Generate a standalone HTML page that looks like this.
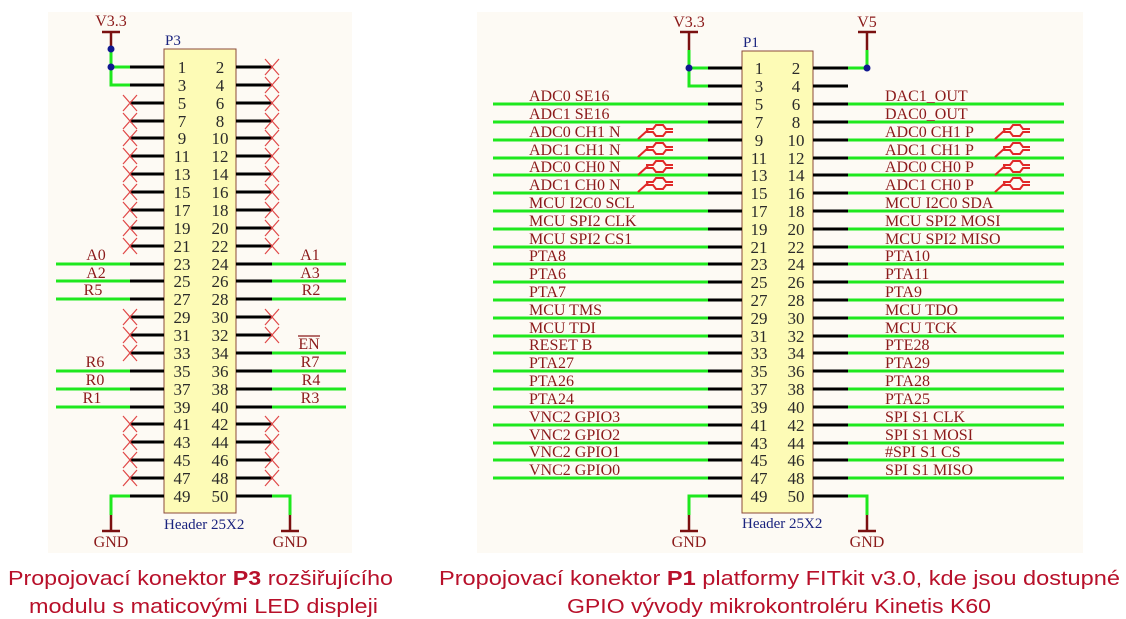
<!DOCTYPE html>
<html><head><meta charset="utf-8"><style>
html,body{margin:0;padding:0;background:#fff;}
svg{display:block;}
.s{font-family:"Liberation Serif",serif;font-size:16px;fill:#8b1a1a;}
.n{font-family:"Liberation Serif",serif;font-size:17px;fill:#2a2a2a;text-anchor:middle;}
.b{font-family:"Liberation Serif",serif;font-size:15px;fill:#1a237e;}
.k{stroke:#000;stroke-width:3;fill:none;}
.g{stroke:#1ee81e;stroke-width:3;fill:none;}
.x{stroke:#e04848;stroke-width:1.2;fill:none;}
.r{stroke:#7a1010;stroke-width:2.5;fill:none;}
.d{stroke:#e02828;stroke-width:2;fill:none;}
.c{font-family:"Liberation Sans",sans-serif;font-size:20px;fill:#b8102a;}
</style></head><body>
<svg width="1126" height="619" viewBox="0 0 1126 619" xmlns="http://www.w3.org/2000/svg">
<rect x="48" y="12" width="304" height="541" fill="#fdfaf4"/>
<rect x="477" y="12" width="606" height="541" fill="#fdfaf4"/>

<!-- ===== P3 ===== -->
<rect x="164" y="49" width="72" height="464" fill="#fdfbb6" stroke="#8a4a3a" stroke-width="1"/>
<text class="b" x="165" y="45">P3</text>
<text class="b" x="164" y="529">Header 25X2</text>
<path class="k" d="M130 67H164M130 85H164M130 103H164M130 121H164M130 138H164M130 156H164M130 174H164M130 192H164M130 210H164M130 228H164M130 246H164M130 264H164M130 281H164M130 299H164M130 317H164M130 335H164M130 353H164M130 371H164M130 389H164M130 407H164M130 424H164M130 442H164M130 460H164M130 478H164M130 496H164"/>
<path class="k" d="M236 67H272M236 85H272M236 103H272M236 121H272M236 138H272M236 156H272M236 174H272M236 192H272M236 210H272M236 228H272M236 246H272M236 264H272M236 281H272M236 299H272M236 317H272M236 335H272M236 353H272M236 371H272M236 389H272M236 407H272M236 424H272M236 442H272M236 460H272M236 478H272M236 496H272"/>
<g class="n">
<text x="182" y="73">1</text><text x="220" y="73">2</text>
<text x="182" y="91">3</text><text x="220" y="91">4</text>
<text x="182" y="109">5</text><text x="220" y="109">6</text>
<text x="182" y="127">7</text><text x="220" y="127">8</text>
<text x="182" y="144">9</text><text x="220" y="144">10</text>
<text x="182" y="162">11</text><text x="220" y="162">12</text>
<text x="182" y="180">13</text><text x="220" y="180">14</text>
<text x="182" y="198">15</text><text x="220" y="198">16</text>
<text x="182" y="216">17</text><text x="220" y="216">18</text>
<text x="182" y="234">19</text><text x="220" y="234">20</text>
<text x="182" y="252">21</text><text x="220" y="252">22</text>
<text x="182" y="270">23</text><text x="220" y="270">24</text>
<text x="182" y="287">25</text><text x="220" y="287">26</text>
<text x="182" y="305">27</text><text x="220" y="305">28</text>
<text x="182" y="323">29</text><text x="220" y="323">30</text>
<text x="182" y="341">31</text><text x="220" y="341">32</text>
<text x="182" y="359">33</text><text x="220" y="359">34</text>
<text x="182" y="377">35</text><text x="220" y="377">36</text>
<text x="182" y="395">37</text><text x="220" y="395">38</text>
<text x="182" y="413">39</text><text x="220" y="413">40</text>
<text x="182" y="430">41</text><text x="220" y="430">42</text>
<text x="182" y="448">43</text><text x="220" y="448">44</text>
<text x="182" y="466">45</text><text x="220" y="466">46</text>
<text x="182" y="484">47</text><text x="220" y="484">48</text>
<text x="182" y="502">49</text><text x="220" y="502">50</text>
</g>
<path class="x" d="M123 95L137 111M137 95L123 111M123 113L137 129M137 113L123 129M123 130L137 146M137 130L123 146M123 148L137 164M137 148L123 164M123 166L137 182M137 166L123 182M123 184L137 200M137 184L123 200M123 202L137 218M137 202L123 218M123 220L137 236M137 220L123 236M123 238L137 254M137 238L123 254M123 309L137 325M137 309L123 325M123 327L137 343M137 327L123 343M123 345L137 361M137 345L123 361M123 416L137 432M137 416L123 432M123 434L137 450M137 434L123 450M123 452L137 468M137 452L123 468M123 470L137 486M137 470L123 486"/>
<path class="x" d="M265 59L279 75M279 59L265 75M265 77L279 93M279 77L265 93M265 95L279 111M279 95L265 111M265 113L279 129M279 113L265 129M265 130L279 146M279 130L265 146M265 148L279 164M279 148L265 164M265 166L279 182M279 166L265 182M265 184L279 200M279 184L265 200M265 202L279 218M279 202L265 218M265 220L279 236M279 220L265 236M265 238L279 254M279 238L265 254M265 309L279 325M279 309L265 325M265 327L279 343M279 327L265 343M265 416L279 432M279 416L265 432M265 434L279 450M279 434L265 450M265 452L279 468M279 452L265 468M265 470L279 486M279 470L265 486"/>
<path class="g" d="M56 264H130M56 281H130M56 299H130M56 371H130M56 389H130M56 407H130M272 264H346M272 281H346M272 299H346M272 353H346M272 371H346M272 389H346M272 407H346"/>
<g class="s" text-anchor="middle">
<text x="96" y="260">A0</text><text x="96" y="278">A2</text><text x="93" y="295">R5</text>
<text x="95" y="367">R6</text><text x="95" y="385">R0</text><text x="92" y="403">R1</text>
<text x="310" y="260">A1</text><text x="310" y="278">A3</text><text x="311" y="295">R2</text>
<text x="309" y="349">EN</text><text x="310" y="367">R7</text><text x="311" y="385">R4</text><text x="310" y="403">R3</text>
</g>
<path stroke="#8b1a1a" stroke-width="1.3" d="M298 336H320"/>
<path class="g" d="M111 49V85H130M111 67H130"/>
<path class="r" d="M111 32V49M102 32H120"/>
<circle cx="111" cy="49" r="3.5" fill="#101890"/><circle cx="111" cy="67" r="3.5" fill="#101890"/>
<text class="s" x="111" y="26" text-anchor="middle">V3.3</text>
<path class="g" d="M130 496H111V515M272 496H290V515"/>
<path class="r" d="M111 515V531M102 531H120M290 515V531M281 531H299"/>
<text class="s" x="111" y="547" text-anchor="middle">GND</text>
<text class="s" x="290" y="547" text-anchor="middle">GND</text>

<!-- ===== P1 ===== -->
<rect x="742" y="51" width="71" height="462" fill="#fdfbb6" stroke="#8a4a3a" stroke-width="1"/>
<text class="b" x="743" y="47">P1</text>
<text class="b" x="742" y="528">Header 25X2</text>
<path class="k" d="M708 68H742M708 86H742M708 104H742M708 122H742M708 140H742M708 158H742M708 175H742M708 193H742M708 211H742M708 229H742M708 247H742M708 264H742M708 282H742M708 300H742M708 318H742M708 336H742M708 353H742M708 371H742M708 389H742M708 407H742M708 425H742M708 443H742M708 460H742M708 478H742M708 496H742"/>
<path class="k" d="M813 68H848M813 86H848M813 104H848M813 122H848M813 140H848M813 158H848M813 175H848M813 193H848M813 211H848M813 229H848M813 247H848M813 264H848M813 282H848M813 300H848M813 318H848M813 336H848M813 353H848M813 371H848M813 389H848M813 407H848M813 425H848M813 443H848M813 460H848M813 478H848M813 496H848"/>
<path class="g" d="M493 104H708M493 122H708M493 140H708M493 158H708M493 175H708M493 193H708M493 211H708M493 229H708M493 247H708M493 264H708M493 282H708M493 300H708M493 318H708M493 336H708M493 353H708M493 371H708M493 389H708M493 407H708M493 425H708M493 443H708M493 460H708M493 478H708"/>
<path class="g" d="M848 104H1064M848 122H1064M848 140H1064M848 158H1064M848 175H1064M848 193H1064M848 211H1064M848 229H1064M848 247H1064M848 264H1064M848 282H1064M848 300H1064M848 318H1064M848 336H1064M848 353H1064M848 371H1064M848 389H1064M848 407H1064M848 425H1064M848 443H1064M848 460H1064M848 478H1064"/>
<g class="n">
<text x="759" y="74">1</text><text x="796" y="74">2</text>
<text x="759" y="92">3</text><text x="796" y="92">4</text>
<text x="759" y="110">5</text><text x="796" y="110">6</text>
<text x="759" y="128">7</text><text x="796" y="128">8</text>
<text x="759" y="146">9</text><text x="796" y="146">10</text>
<text x="759" y="164">11</text><text x="796" y="164">12</text>
<text x="759" y="181">13</text><text x="796" y="181">14</text>
<text x="759" y="199">15</text><text x="796" y="199">16</text>
<text x="759" y="217">17</text><text x="796" y="217">18</text>
<text x="759" y="235">19</text><text x="796" y="235">20</text>
<text x="759" y="253">21</text><text x="796" y="253">22</text>
<text x="759" y="270">23</text><text x="796" y="270">24</text>
<text x="759" y="288">25</text><text x="796" y="288">26</text>
<text x="759" y="306">27</text><text x="796" y="306">28</text>
<text x="759" y="324">29</text><text x="796" y="324">30</text>
<text x="759" y="342">31</text><text x="796" y="342">32</text>
<text x="759" y="359">33</text><text x="796" y="359">34</text>
<text x="759" y="377">35</text><text x="796" y="377">36</text>
<text x="759" y="395">37</text><text x="796" y="395">38</text>
<text x="759" y="413">39</text><text x="796" y="413">40</text>
<text x="759" y="431">41</text><text x="796" y="431">42</text>
<text x="759" y="449">43</text><text x="796" y="449">44</text>
<text x="759" y="466">45</text><text x="796" y="466">46</text>
<text x="759" y="484">47</text><text x="796" y="484">48</text>
<text x="759" y="502">49</text><text x="796" y="502">50</text>
</g>
<g class="s">
<text x="529" y="101">ADC0 SE16</text>
<text x="529" y="119">ADC1 SE16</text>
<text x="529" y="137">ADC0 CH1 N</text>
<text x="529" y="155">ADC1 CH1 N</text>
<text x="529" y="172">ADC0 CH0 N</text>
<text x="529" y="190">ADC1 CH0 N</text>
<text x="529" y="208">MCU I2C0 SCL</text>
<text x="529" y="226">MCU SPI2 CLK</text>
<text x="529" y="244">MCU SPI2 CS1</text>
<text x="529" y="261">PTA8</text>
<text x="529" y="279">PTA6</text>
<text x="529" y="297">PTA7</text>
<text x="529" y="315">MCU TMS</text>
<text x="529" y="333">MCU TDI</text>
<text x="529" y="350">RESET B</text>
<text x="529" y="368">PTA27</text>
<text x="529" y="386">PTA26</text>
<text x="529" y="404">PTA24</text>
<text x="529" y="422">VNC2 GPIO3</text>
<text x="529" y="440">VNC2 GPIO2</text>
<text x="529" y="457">VNC2 GPIO1</text>
<text x="529" y="475">VNC2 GPIO0</text>
<text x="885" y="101">DAC1_OUT</text>
<text x="885" y="119">DAC0_OUT</text>
<text x="885" y="137">ADC0 CH1 P</text>
<text x="885" y="155">ADC1 CH1 P</text>
<text x="885" y="172">ADC0 CH0 P</text>
<text x="885" y="190">ADC1 CH0 P</text>
<text x="885" y="208">MCU I2C0 SDA</text>
<text x="885" y="226">MCU SPI2 MOSI</text>
<text x="885" y="244">MCU SPI2 MISO</text>
<text x="885" y="261">PTA10</text>
<text x="885" y="279">PTA11</text>
<text x="885" y="297">PTA9</text>
<text x="885" y="315">MCU TDO</text>
<text x="885" y="333">MCU TCK</text>
<text x="885" y="350">PTE28</text>
<text x="885" y="368">PTA29</text>
<text x="885" y="386">PTA28</text>
<text x="885" y="404">PTA25</text>
<text x="885" y="422">SPI S1 CLK</text>
<text x="885" y="440">SPI S1 MOSI</text>
<text x="885" y="457">#SPI S1 CS</text>
<text x="885" y="475">SPI S1 MISO</text>
</g>
<defs><g id="dp"><path class="d" d="M0 9L10 0M8 -1H15L18 -5H25L28 -1H35M8 2H15L18 6H25L28 2H35"/></g></defs>
<use href="#dp" x="638" y="130"/><use href="#dp" x="638" y="148"/><use href="#dp" x="638" y="166"/><use href="#dp" x="638" y="183"/>
<use href="#dp" x="995" y="130"/><use href="#dp" x="995" y="148"/><use href="#dp" x="995" y="166"/><use href="#dp" x="995" y="183"/>
<path class="g" d="M689 50V86H708M689 68H708M867 50V68H848"/>
<path class="r" d="M689 32V50M680 32H698M867 32V50M858 32H876"/>
<circle cx="689" cy="68" r="3.5" fill="#101890"/><circle cx="867" cy="68" r="3.5" fill="#101890"/>
<text class="s" x="689" y="27" text-anchor="middle">V3.3</text>
<text class="s" x="867" y="27" text-anchor="middle">V5</text>
<path class="g" d="M708 496H689V515M848 496H867V515"/>
<path class="r" d="M689 515V531M680 531H698M867 515V531M858 531H876"/>
<text class="s" x="689" y="547" text-anchor="middle">GND</text>
<text class="s" x="867" y="547" text-anchor="middle">GND</text>

<text class="c" x="8" y="585" textLength="385" lengthAdjust="spacingAndGlyphs">Propojovací konektor <tspan font-weight="bold">P3</tspan> rozšiřujícího</text>
<text class="c" x="29" y="613" textLength="349" lengthAdjust="spacingAndGlyphs">modulu s maticovými LED displeji</text>
<text class="c" x="439" y="585" textLength="681" lengthAdjust="spacingAndGlyphs">Propojovací konektor <tspan font-weight="bold">P1</tspan> platformy FITkit v3.0, kde jsou dostupné</text>
<text class="c" x="567" y="613" textLength="424" lengthAdjust="spacingAndGlyphs">GPIO vývody mikrokontroléru Kinetis K60</text>
</svg>
</body></html>
